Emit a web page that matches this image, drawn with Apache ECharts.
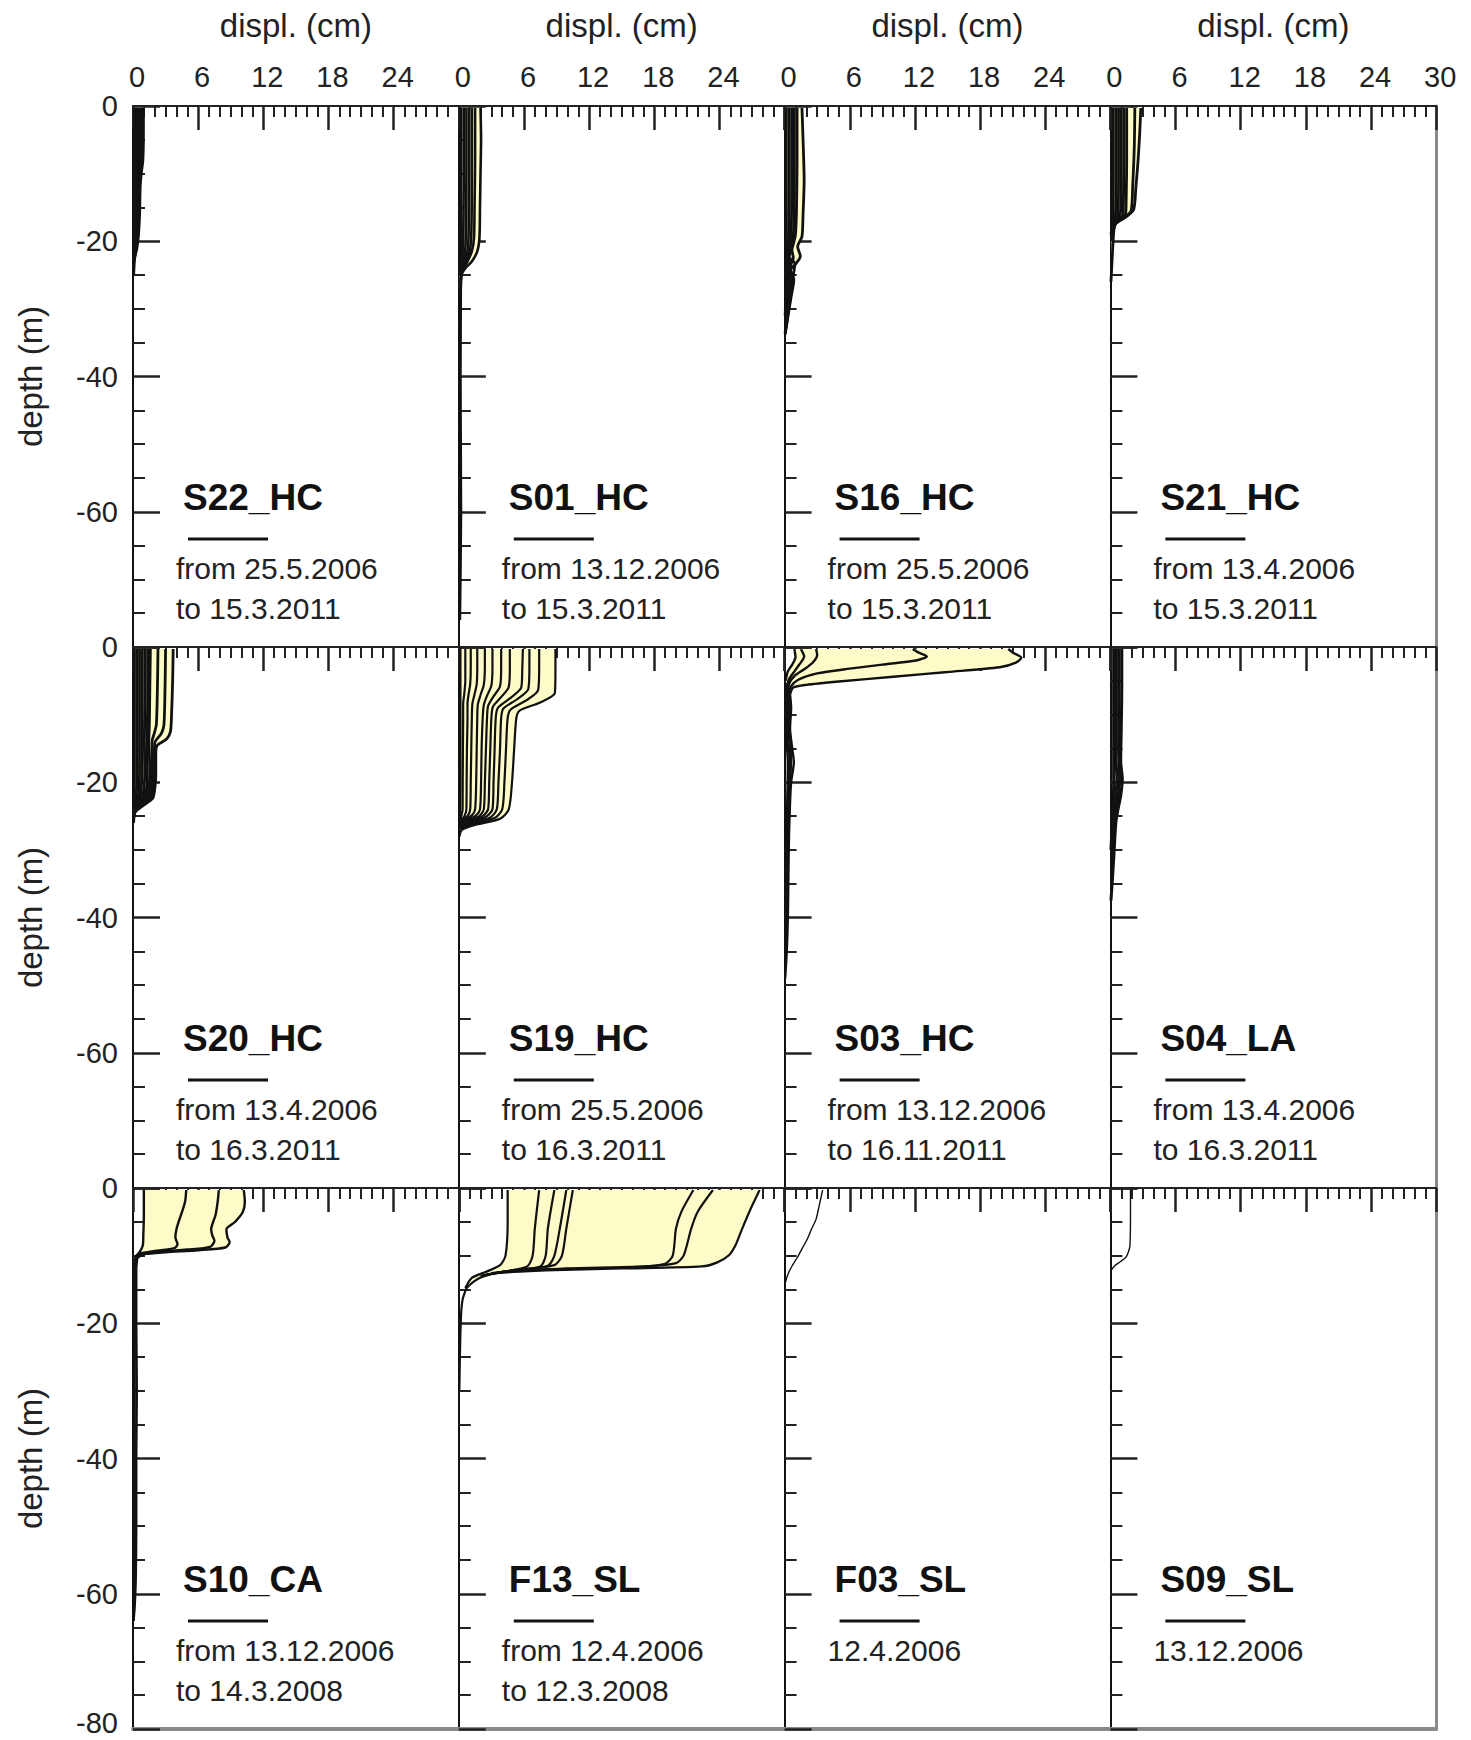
<!DOCTYPE html>
<html><head><meta charset="utf-8">
<script src="https://cdn.jsdelivr.net/npm/echarts@6.0.0/dist/echarts.min.js"></script>
<style>html,body{margin:0;padding:0;background:#fff}#chart{width:1471px;height:1740px}</style>
</head><body><div id="chart"></div>
<script>
// ---------- DATA ----------
const panelNames = ['S22_HC','S01_HC','S16_HC','S21_HC','S20_HC','S19_HC','S03_HC','S04_LA','S10_CA','F13_SL','F03_SL','S09_SL'];
const panelDates = [
  ['from 25.5.2006','to 15.3.2011'],
  ['from 13.12.2006','to 15.3.2011'],
  ['from 25.5.2006','to 15.3.2011'],
  ['from 13.4.2006','to 15.3.2011'],
  ['from 13.4.2006','to 16.3.2011'],
  ['from 25.5.2006','to 16.3.2011'],
  ['from 13.12.2006','to 16.11.2011'],
  ['from 13.4.2006','to 16.3.2011'],
  ['from 13.12.2006','to 14.3.2008'],
  ['from 12.4.2006','to 12.3.2008'],
  ['12.4.2006'],
  ['13.12.2006']
];
const panelFilled = [false,true,true,true,true,true,true,false,true,true,false,false];
const xAxisName = 'displ. (cm)';
const yAxisName = 'depth (m)';

// each curve: [displacement cm, depth m]; first curve = outermost, last = innermost (fill lies between them)
const S22_HC = [
  [[0.95,-0.3],[0.95,-4],[0.9,-8],[0.75,-10],[0.65,-12],[0.6,-16],[0.5,-19],[0.35,-21],[0.15,-22.5],[0.05,-25]],
  [[0.75,-0.3],[0.75,-6],[0.65,-10],[0.55,-14],[0.5,-18],[0.35,-20.5],[0.1,-22.5]],
  [[0.55,-0.3],[0.55,-8],[0.45,-14],[0.35,-19],[0.2,-21.5],[0.05,-23]],
  [[0.35,-0.3],[0.35,-10],[0.3,-16],[0.2,-20],[0.05,-22]],
  [[0.15,-0.3],[0.15,-10],[0.15,-18],[0.05,-22]]
];
const S01_HC = [
  [[2.0,-0.3],[2.05,-5],[2.0,-10],[1.95,-15],[1.9,-19.5],[1.7,-21.5],[1.2,-23],[0.6,-24],[0.25,-25],[0.15,-30]],
  [[0.2,-0.3],[0.2,-20],[0.15,-40],[0.2,-60],[0.1,-76]],
  [[1.5,-0.3],[1.5,-8],[1.45,-15],[1.4,-19.5],[1.2,-21.5],[0.8,-23],[0.3,-24.5],[0.15,-26]],
  [[1.2,-0.3],[1.2,-10],[1.15,-19],[1.0,-21.5],[0.55,-23.5],[0.15,-25]],
  [[0.95,-0.3],[0.95,-10],[0.9,-19],[0.8,-21.5],[0.4,-23.5],[0.1,-25]],
  [[0.7,-0.3],[0.7,-10],[0.65,-19],[0.55,-22],[0.25,-24],[0.05,-25]],
  [[0.45,-0.3],[0.45,-12],[0.4,-20],[0.3,-23],[0.05,-25]]
];
const S16_HC = [
  [[1.6,-0.3],[1.7,-5],[1.8,-11],[1.7,-16],[1.6,-19.3],[1.2,-20.8],[1.45,-22.2],[1.0,-23.4],[0.55,-24.2],[0.85,-25.7],[0.6,-28.2],[0.35,-30.7],[0.05,-33.6]],
  [[1.15,-0.3],[1.15,-8],[1.1,-15],[1.0,-19],[0.7,-21],[0.4,-22.3],[0.95,-23.3],[0.75,-25.5],[0.5,-28.5],[0.3,-31],[0.05,-33.8]],
  [[0.9,-0.3],[0.9,-10],[0.85,-18],[0.65,-21],[0.8,-22.5],[0.45,-24],[0.6,-27],[0.3,-30.5],[0.05,-33.5]],
  [[0.65,-0.3],[0.65,-12],[0.6,-19],[0.4,-22],[0.55,-24.5],[0.35,-28],[0.1,-32]],
  [[0.4,-0.3],[0.4,-14],[0.35,-21],[0.3,-25],[0.1,-30]],
  [[0.15,-0.3],[0.15,-14],[0.15,-22],[0.15,-26],[0.05,-31]]
];
const S21_HC = [
  [[2.8,-0.3],[2.7,-4],[2.55,-8],[2.35,-12],[2.15,-15.3],[1.6,-16.2],[0.9,-16.9],[0.4,-17.6],[0.25,-20],[0.15,-23],[0.05,-26]],
  [[2.25,-0.3],[2.2,-6],[2.05,-12],[1.9,-15.5],[1.3,-16.5],[0.5,-17.4],[0.2,-19]],
  [[1.5,-0.3],[1.5,-8],[1.45,-14],[1.4,-16],[0.8,-16.8],[0.3,-17.5],[0.15,-20]],
  [[1.25,-0.3],[1.25,-8],[1.2,-14],[1.15,-16],[0.65,-17],[0.2,-17.8]],
  [[1.0,-0.3],[1.0,-10],[0.95,-15.5],[0.5,-17.2],[0.15,-18]],
  [[0.75,-0.3],[0.75,-10],[0.7,-16],[0.35,-17.5],[0.1,-18.5]],
  [[0.5,-0.3],[0.5,-12],[0.45,-16.5],[0.2,-17.8],[0.05,-19]],
  [[0.25,-0.3],[0.25,-12],[0.2,-17],[0.1,-19]]
];
const S20_HC = [
  [[3.7,-0.3],[3.65,-5],[3.55,-10],[3.45,-12.5],[3.1,-13.6],[2.2,-14.6],[2.1,-16],[2.1,-19],[2.0,-21],[1.8,-22.4],[0.8,-23.6],[0.2,-24.4],[0.05,-26]],
  [[3.0,-0.3],[2.95,-6],[2.85,-11.5],[2.6,-12.8],[2.0,-14.2],[1.95,-18],[1.85,-21],[1.55,-22.5],[0.5,-23.8],[0.1,-24.5]],
  [[2.3,-0.3],[2.25,-6],[2.15,-11.5],[1.95,-12.8],[1.75,-14],[1.75,-18],[1.65,-21],[1.35,-22.5],[0.35,-23.8],[0.05,-24.5]],
  [[1.6,-0.3],[1.55,-6],[1.5,-12],[1.45,-14],[1.55,-18],[1.45,-21],[1.15,-22.5],[0.25,-24]],
  [[1.35,-0.3],[1.35,-8],[1.3,-13],[1.3,-16],[1.3,-20],[1.0,-22.5],[0.2,-24]],
  [[1.1,-0.3],[1.1,-8],[1.05,-14],[1.1,-18],[1.0,-21],[0.75,-22.8],[0.15,-24]],
  [[0.85,-0.3],[0.85,-10],[0.85,-16],[0.8,-20],[0.55,-23],[0.1,-24]],
  [[0.6,-0.3],[0.6,-10],[0.6,-18],[0.5,-22],[0.05,-24]],
  [[0.35,-0.3],[0.35,-12],[0.35,-20],[0.25,-22.5],[0.05,-24]],
  [[0.12,-0.3],[0.12,-12],[0.12,-20],[0.05,-24]]
];
const S19_HC = [
  [[8.9,-0.3],[8.9,-3],[8.85,-6.8],[7.5,-8.2],[5.6,-9.4],[5.3,-10.5],[5.1,-15],[4.9,-20],[4.6,-24],[3.8,-25.4],[1.5,-26.3],[0.3,-27],[0.05,-28]],
  [[7.4,-0.3],[7.4,-3],[7.3,-6.4],[6.2,-7.9],[4.8,-9.2],[4.5,-10.5],[4.35,-15],[4.2,-20],[4.0,-24],[3.3,-25.3],[1.3,-26.2],[0.2,-27]],
  [[6.5,-0.3],[6.5,-3],[6.4,-6.2],[5.3,-7.8],[4.1,-9.1],[3.9,-10.5],[3.8,-15],[3.65,-20],[3.5,-24],[2.9,-25.2],[1.1,-26.1],[0.2,-26.9]],
  [[5.9,-0.3],[5.85,-3],[5.75,-6],[4.7,-7.6],[3.6,-9],[3.4,-10.5],[3.3,-15],[3.2,-20],[3.1,-24],[2.5,-25.1],[1.0,-26],[0.15,-26.8]],
  [[4.7,-0.3],[4.7,-3],[4.6,-5.9],[3.9,-7.4],[3.15,-8.8],[3.0,-10.5],[2.9,-15],[2.8,-20],[2.7,-24],[2.2,-25],[0.9,-25.9],[0.1,-26.7]],
  [[3.9,-0.3],[3.9,-3],[3.8,-5.8],[3.2,-7.3],[2.7,-8.7],[2.6,-10.5],[2.5,-15],[2.4,-20],[2.3,-24],[1.9,-25],[0.8,-25.8],[0.1,-26.6]],
  [[3.1,-0.3],[3.1,-3],[3.0,-5.7],[2.6,-7.2],[2.3,-8.6],[2.2,-10.5],[2.1,-15],[2.05,-20],[1.95,-24],[1.6,-24.9],[0.7,-25.7],[0.1,-26.5]],
  [[2.4,-0.3],[2.4,-3],[2.3,-5.6],[2.0,-7.1],[1.75,-8.5],[1.7,-10.5],[1.65,-15],[1.6,-20],[1.5,-24],[1.2,-24.9],[0.5,-25.6],[0.05,-26.4]],
  [[1.7,-0.3],[1.7,-3],[1.65,-5.5],[1.45,-7],[1.25,-8.4],[1.2,-10.5],[1.15,-15],[1.1,-20],[1.05,-24],[0.85,-24.9],[0.35,-25.6],[0.05,-26.3]],
  [[1.1,-0.3],[1.1,-3],[1.05,-5.5],[0.9,-7],[0.8,-8.4],[0.8,-10.5],[0.75,-15],[0.72,-20],[0.7,-24],[0.55,-24.9],[0.25,-25.6],[0.05,-26.2]],
  [[0.6,-0.3],[0.6,-5],[0.5,-7],[0.4,-8.4],[0.4,-10.5],[0.38,-15],[0.36,-20],[0.35,-24],[0.15,-25.5],[0.05,-26.2]],
  [[0.15,-0.3],[0.15,-20],[0.1,-26],[0.05,-28]]
];
const S03_HC = [
  [[20.6,-0.3],[21.0,-0.8],[21.8,-1.6],[21.3,-2.3],[19.8,-3.0],[15,-3.7],[10,-4.4],[5,-5.1],[2,-5.6],[0.8,-6.0],[0.5,-7]],
  [[0.5,-7],[0.6,-9],[0.5,-12],[0.7,-15],[0.85,-17],[0.6,-20],[0.5,-23],[0.4,-28],[0.35,-34],[0.3,-40],[0.2,-45],[0.05,-49]],
  [[11.8,-0.3],[12.3,-0.8],[13.1,-1.4],[12.1,-2.0],[9,-2.6],[6,-3.2],[3,-3.9],[1.3,-4.8],[0.6,-5.8],[0.4,-7],[0.45,-12],[0.6,-16],[0.45,-22],[0.3,-30],[0.2,-40],[0.05,-47]],
  [[2.9,-0.3],[3.0,-1.2],[2.6,-2.3],[1.8,-3.3],[0.9,-4.3],[0.4,-5.5],[0.3,-8],[0.35,-14],[0.5,-17],[0.3,-22],[0.2,-35],[0.1,-45]],
  [[1.5,-0.3],[1.8,-1.4],[1.4,-2.5],[0.9,-3.6],[0.4,-4.8],[0.2,-6],[0.2,-14],[0.3,-17],[0.15,-30]],
  [[0.9,-0.3],[1.0,-1.5],[0.7,-2.6],[0.3,-3.6],[0.1,-5]]
];
const S04_LA = [
  [[1.05,-0.3],[1.05,-6],[1.0,-12],[0.95,-17],[1.1,-19.5],[0.95,-22],[0.7,-24],[0.5,-26],[0.35,-30],[0.2,-34],[0.05,-37.5]],
  [[0.8,-0.3],[0.8,-8],[0.75,-15],[0.85,-19.5],[0.7,-22.5],[0.45,-25],[0.25,-30],[0.1,-35]],
  [[0.55,-0.3],[0.55,-10],[0.5,-16],[0.6,-19.5],[0.45,-23],[0.25,-26],[0.1,-32]],
  [[0.3,-0.3],[0.3,-12],[0.3,-20],[0.2,-25],[0.05,-30]]
];
const S10_CA = [
  [[10.2,-0.3],[10.3,-2],[10.1,-3.6],[9.4,-5],[8.6,-6.1],[8.7,-7.3],[8.9,-8],[8.5,-8.8],[6,-9.2],[3,-9.5],[1,-9.8],[0.4,-10.3]],
  [[0.4,-10.3],[0.3,-12],[0.3,-20],[0.35,-30],[0.3,-40],[0.3,-50],[0.25,-58],[0.15,-62],[0.05,-64]],
  [[7.9,-0.3],[7.8,-2],[7.6,-4],[7.2,-6.1],[7.3,-7],[7.5,-7.8],[7.1,-8.7],[5,-9.1],[2,-9.5],[0.6,-9.9],[0.2,-10.5],[0.15,-20],[0.15,-40],[0.1,-60],[0.05,-64]],
  [[4.9,-0.3],[4.8,-2],[4.5,-3.6],[4.2,-5],[4.0,-6.1],[3.9,-7.3],[4.1,-8.3],[3.8,-8.9],[2,-9.3],[0.6,-9.7],[0.15,-10.3]],
  [[1.0,-0.3],[1.0,-4],[0.95,-7],[0.9,-8.5],[0.6,-9.5],[0.2,-10.2]]
];
const F13_SL = [
  [[27.7,-0.3],[26.9,-3],[26.1,-6],[25.5,-8.4],[24.9,-9.9],[23.8,-11.0],[22.4,-11.6],[15,-11.9],[8,-12.2],[3.5,-12.6],[2.2,-13.1],[1.4,-13.8],[0.7,-14.8]],
  [[0.7,-14.8],[0.35,-16.5],[0.2,-19],[0.1,-25],[0.05,-30]],
  [[23.4,-0.3],[22.0,-3.5],[21.4,-6],[20.7,-10],[20.0,-11.1],[17,-11.6],[10,-11.9],[4,-12.4]],
  [[21.6,-0.3],[20.5,-3.5],[20.0,-6],[19.7,-10],[19.0,-11.2],[16,-11.7],[9,-12.0],[3.5,-12.5]],
  [[10.5,-0.3],[9.9,-6],[9.5,-10],[8.8,-11.4],[6,-12.0],[3,-12.6]],
  [[9.9,-0.3],[9.3,-6],[8.8,-10],[8.2,-11.5],[5,-12.2],[2.5,-12.8]],
  [[8.8,-0.3],[8.2,-6],[8.0,-10],[7.5,-11.6],[4.5,-12.3],[2.2,-12.9]],
  [[7.4,-0.3],[7.0,-6],[6.8,-10],[6.3,-11.6],[4,-12.4],[2,-13]],
  [[4.5,-0.3],[4.5,-5],[4.3,-10],[3.8,-11.4],[2.5,-12.4],[1.2,-13.3],[0.6,-14.8]]
];
const F03_SL = [
  [[3.5,-0.3],[3.2,-2.5],[2.9,-4.6],[2.5,-6],[2.1,-7.5],[1.6,-9],[1.2,-10.2],[0.7,-11.5],[0.35,-12.6],[0.1,-13.8],[0,-15]]
];
const S09_SL = [
  [[1.85,-0.3],[1.85,-4],[1.8,-8.5],[1.65,-9.5],[1.4,-10.3],[0.9,-10.9],[0.4,-11.5],[0.05,-12.2]]
];
const panelCurves = [S22_HC,S01_HC,S16_HC,S21_HC,S20_HC,S19_HC,S03_HC,S04_LA,S10_CA,F13_SL,F03_SL,S09_SL];

// ---------- LAYOUT / STYLE ----------
const FONT = '"Liberation Sans", Arial, Helvetica, sans-serif';
const FILL = '#fdfcc8';
const panelLineWidth = [3, 2.6, 2.8, 2.8, 2.8, 2.2, 2.4, 3, 2.4, 2.2, 1.4, 1.4];
const GL = 133, GW = 325.8, GT = 106, GH = 541;

const grids = [], xAxes = [], yAxes = [], series = [], graphics = [];
const extraX = [], extraY = [];

panelNames.forEach((name, i) => {
  const r = Math.floor(i / 4), c = i % 4;
  const x0 = GL + c * GW, y0 = GT + r * GH;
  grids.push({left: x0, top: y0, width: GW, height: GH, containLabel: false, outerBoundsMode: 'none'});
  xAxes.push({
    gridIndex: i, type: 'value', position: 'top', min: 0, max: 30, interval: 6,
    axisLine: {show: true, onZero: false, lineStyle: {color: '#222', width: 2}},
    axisTick: {show: true, inside: true, length: 24, lineStyle: {color: '#222', width: 2.5}},
    minorTick: {show: true, splitNumber: 6, length: 11, lineStyle: {color: '#222', width: 2}},
    splitLine: {show: false}, minorSplitLine: {show: false},
    axisLabel: {show: r === 0, margin: 15, fontSize: 29, color: '#222', fontFamily: FONT,
      padding: [0, 0, 0, 8],
      formatter: v => (v === 30 && c < 3) ? '' : String(v)},
    name: r === 0 ? xAxisName : '', nameLocation: 'middle', nameGap: 64,
    nameTextStyle: {fontSize: 33, color: '#222', fontFamily: FONT}
  });
  yAxes.push({
    gridIndex: i, type: 'value', position: 'left', min: -80, max: 0, interval: 20,
    axisLine: {show: true, onZero: false, lineStyle: {color: '#111', width: 2}},
    axisTick: {show: true, inside: true, length: 27, lineStyle: {color: '#222', width: 2.5}},
    minorTick: {show: true, splitNumber: 4, length: 12, lineStyle: {color: '#222', width: 2}},
    splitLine: {show: false}, minorSplitLine: {show: false},
    axisLabel: {show: c === 0, margin: 15, fontSize: 29, color: '#222', fontFamily: FONT,
      formatter: v => v === -80 ? (r < 2 ? '' : '{lo|-80}') : String(v),
      rich: {lo: {fontSize: 29, color: '#222', fontFamily: FONT, padding: [0, 0, 12, 0]}}},
    name: c === 0 ? yAxisName : '', nameLocation: 'middle', nameRotate: 90, nameGap: 86,
    nameTextStyle: {fontSize: 33, color: '#222', fontFamily: FONT}
  });
  if (c === 3) extraY.push({gridIndex: i, type: 'value', position: 'right', min: -80, max: 0,
    axisLine: {show: true, onZero: false, lineStyle: {color: '#8a8a8a', width: 3}},
    axisTick: {show: false}, axisLabel: {show: false}, splitLine: {show: false}});
  if (r === 2) extraX.push({gridIndex: i, type: 'value', position: 'bottom', min: 0, max: 30,
    axisLine: {show: true, onZero: false, lineStyle: {color: '#8a8a8a', width: 4}},
    axisTick: {show: false}, axisLabel: {show: false}, splitLine: {show: false}});

  const curves = panelCurves[i];
  if (panelFilled[i]) {
    const outer = curves[0], inner = curves[curves.length - 1];
    series.push({
      type: 'custom', xAxisIndex: i, yAxisIndex: i, data: [0], silent: true, z: 1, clip: true,
      renderItem: (params, api) => {
        const pts = outer.map(p => api.coord(p)).concat(inner.slice().reverse().map(p => api.coord(p)));
        return {type: 'polygon', shape: {points: pts}, style: {fill: FILL, stroke: null}};
      }
    });
  }
  curves.forEach(cv => {
    series.push({
      type: 'line', xAxisIndex: i, yAxisIndex: i, data: cv, showSymbol: false, symbol: 'none',
      smooth: 0.25, silent: true, z: 3,
      lineStyle: {color: '#111', width: panelLineWidth[i]}
    });
  });

  graphics.push({type: 'text', x: x0 + 50, y: y0 + 391, z: 10,
    style: {text: name, fontSize: 37, fontWeight: 'bold', fontFamily: FONT, fill: '#111', verticalAlign: 'middle'}});
  graphics.push({type: 'line', z: 10, shape: {x1: x0 + 55, y1: y0 + 433, x2: x0 + 135, y2: y0 + 433},
    style: {stroke: '#111', lineWidth: 3}});
  panelDates[i].forEach((t, k) => graphics.push({type: 'text', x: x0 + 43, y: y0 + 462 + k * 40, z: 10,
    style: {text: t, fontSize: 30, fontFamily: FONT, fill: '#222', verticalAlign: 'middle'}}));
});

const chart = echarts.init(document.getElementById('chart'), null, {renderer: 'svg', width: 1471, height: 1740});
chart.setOption({
  backgroundColor: '#fff',
  animation: false,
  grid: grids,
  xAxis: xAxes.concat(extraX),
  yAxis: yAxes.concat(extraY),
  series: series,
  graphic: graphics
});
</script>
</body></html>
